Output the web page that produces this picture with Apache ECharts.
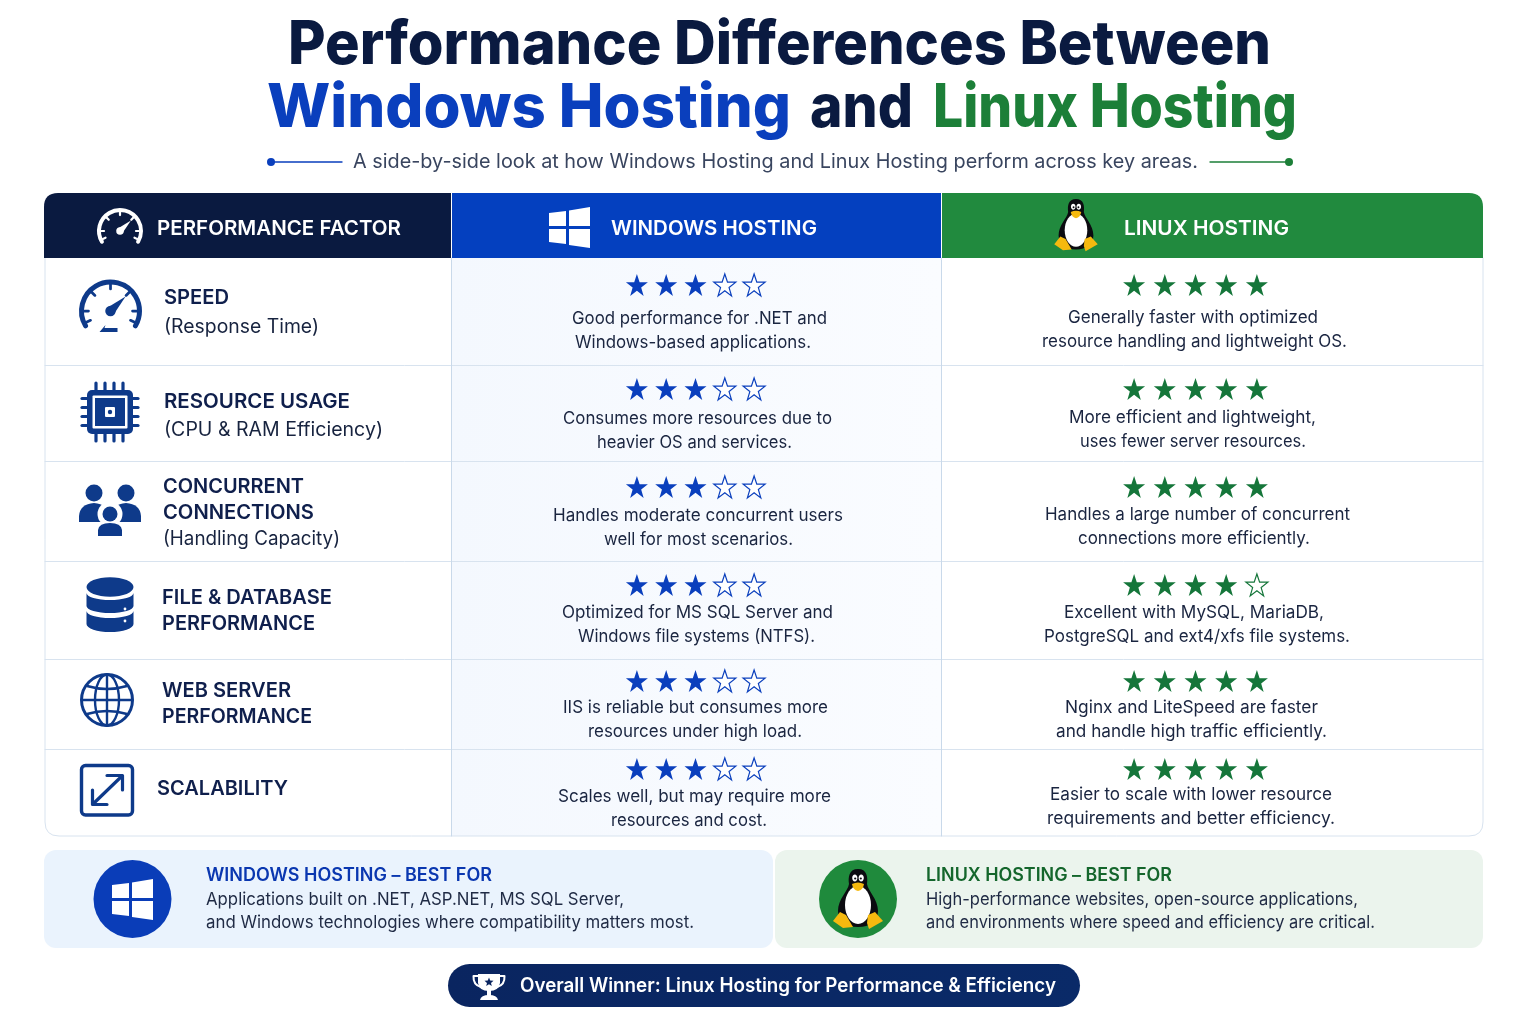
<!DOCTYPE html>
<html>
<head>
<meta charset="utf-8">
<title>Performance Differences Between Windows Hosting and Linux Hosting</title>
<script src="https://cdn.jsdelivr.net/npm/echarts@6/dist/echarts.min.js"></script>
<style>
html,body{margin:0;padding:0;background:#fff;}
#main{width:1536px;height:1024px;}
</style>
</head>
<body>
<div id="main"></div>
<script>
// data
var factorTitles = [
    ['SPEED'],
    ['RESOURCE USAGE'],
    ['CONCURRENT', 'CONNECTIONS'],
    ['FILE & DATABASE', 'PERFORMANCE'],
    ['WEB SERVER', 'PERFORMANCE'],
    ['SCALABILITY']
];
var factorSubs = ['(Response Time)', '(CPU & RAM Efficiency)', '(Handling Capacity)', '', '', ''];
var windowsRatings = [3, 3, 3, 3, 3, 3];
var linuxRatings = [5, 5, 5, 4, 5, 5];
var starSlots = ['1', '2', '3', '4', '5'];
var windowsNotes = [
    ['Good performance for .NET and', 'Windows-based applications.'],
    ['Consumes more resources due to', 'heavier OS and services.'],
    ['Handles moderate concurrent users', 'well for most scenarios.'],
    ['Optimized for MS SQL Server and', 'Windows file systems (NTFS).'],
    ['IIS is reliable but consumes more', 'resources under high load.'],
    ['Scales well, but may require more', 'resources and cost.']
];
var linuxNotes = [
    ['Generally faster with optimized', 'resource handling and lightweight OS.'],
    ['More efficient and lightweight,', 'uses fewer server resources.'],
    ['Handles a large number of concurrent', 'connections more efficiently.'],
    ['Excellent with MySQL, MariaDB,', 'PostgreSQL and ext4/xfs file systems.'],
    ['Nginx and LiteSpeed are faster', 'and handle high traffic efficiently.'],
    ['Easier to scale with lower resource', 'requirements and better efficiency.']
];
var columnHeaders = ['PERFORMANCE FACTOR', 'WINDOWS HOSTING', 'LINUX HOSTING'];
var titleLine1 = 'Performance Differences Between';
var titleParts = ['Windows Hosting', 'and', 'Linux Hosting'];
var subtitle = 'A side-by-side look at how Windows Hosting and Linux Hosting perform across key areas.';
var windowsBest = ['WINDOWS HOSTING – BEST FOR', 'Applications built on .NET, ASP.NET, MS SQL Server,', 'and Windows technologies where compatibility matters most.'];
var linuxBest = ['LINUX HOSTING – BEST FOR', 'High-performance websites, open-source applications,', 'and environments where speed and efficiency are critical.'];
var winnerText = 'Overall Winner: Linux Hosting for Performance & Efficiency';

// layout
var NAVY = '#0a1a40', BLUE = '#0a3fbd', GREEN = '#1c7f38', ICON = '#0e3a8a', FONT = 'Inter, "Noto Sans", sans-serif';
var rowLines = [365.5, 461.5, 561.5, 659.5, 749.5];
var starRowY = [285, 389, 487, 585, 681, 769];
var factorX = [164, 164, 163, 162, 162, 157];
var factorEnd = [[229, 319], [350, 383], [304, 314, 340], [332, 315], [291, 312], [288]];
var factorY = [[296, 325], [400, 428], [485, 511, 537], [596, 622], [689, 715], [787]];
var winNoteSpan = [[[572, 827], [575, 811]], [[563, 832], [597, 792]], [[553, 843], [604, 793]], [[562, 833], [578, 815]], [[563, 828], [588, 802]], [[558, 831], [611, 767]]];
var winNoteY = [[317, 341], [417, 441], [514, 538], [611, 635], [706, 730], [795, 819]];
var linNoteSpan = [[[1068, 1318], [1042, 1347]], [[1069, 1316], [1080, 1306]], [[1045, 1350], [1078, 1310]], [[1064, 1324], [1044, 1350]], [[1065, 1318], [1056, 1327]], [[1050, 1332], [1047, 1335]]];
var linNoteY = [[316, 340], [416, 440], [513, 537], [611, 635], [706, 730], [793, 817]];

var els = [];
var measure = document.createElement('canvas').getContext('2d');
var pathCount = 0;

// text squeezed/stretched to run from x0 to x1
function txt(s, x0, x1, y, font, fill) {
    measure.font = font;
    var k = (x1 - x0) / measure.measureText(s).width;
    return {
        type: 'text', x: x0, y: y + 2, scaleX: k,
        style: { text: s, x: 0, y: 0, font: font, fill: fill, align: 'left', textAlign: 'left', verticalAlign: 'middle', textVerticalAlign: 'middle' }
    };
}
function rect(x, y, w, h, r, fill, stroke) {
    return { type: 'rect', shape: { x: x, y: y, width: w, height: h, r: r || 0 }, style: { fill: fill || 'none', stroke: stroke || 'none', lineWidth: stroke ? 1 : 0 } };
}
// the graphic component has no plain path type, so each svg path gets its own shape
function path(d, fill, stroke, lw) {
    var name = 'svgPath' + (pathCount++);
    echarts.graphic.registerShape(name, echarts.graphic.extendPath(d));
    return { type: name, style: { fill: fill || 'none', stroke: stroke || 'none', lineWidth: lw || 0, lineCap: 'round', lineJoin: 'round' } };
}
function circle(cx, cy, r, fill, stroke, lw) {
    return { type: 'circle', shape: { cx: cx, cy: cy, r: r }, style: { fill: fill || 'none', stroke: stroke || 'none', lineWidth: lw || 0 } };
}
function line(x1, y1, x2, y2, color, lw) {
    return { type: 'line', shape: { x1: x1, y1: y1, x2: x2, y2: y2 }, style: { stroke: color, lineWidth: lw, lineCap: 'round' } };
}

function gauge(cx, cy, r, color, lw, withBase) {
    var a0 = Math.PI * 0.83, a1 = Math.PI * 2.17;
    els.push({ type: 'arc', shape: { cx: cx, cy: cy, r: r, startAngle: a0, endAngle: a1, clockwise: true }, style: { fill: 'none', stroke: color, lineWidth: lw, lineCap: 'round' } });
    [-90, -135, -45, 180, 0, 155, 25].forEach(function (d) {
        var t = d * Math.PI / 180;
        els.push(line(cx + Math.cos(t) * r, cy + Math.sin(t) * r, cx + Math.cos(t) * r * 0.76, cy + Math.sin(t) * r * 0.76, color, lw * 0.55));
    });
    els.push(circle(cx, cy, r * 0.18, color));
    var nx = r * 0.52, ny = -r * 0.5;
    els.push(path('M' + (cx - r * 0.1) + ' ' + (cy - r * 0.12) + 'L' + (cx + nx) + ' ' + (cy + ny) + 'L' + (cx + r * 0.12) + ' ' + (cy + r * 0.1) + 'Z', color));
    if (withBase) {
        els.push(path('M' + (cx - 11) + ' ' + (cy + 21) + 'H' + (cx + 7) + 'V' + (cy + 17) + 'H' + (cx - 6) + 'L' + (cx - 5) + ' ' + (cy + 14) + 'Z', color));
    }
}

function winLogo(x, y, s, fill) {
    // x, y = top left, s = scale (41px wide at 1)
    [
        [[0, 6], [17, 4], [17, 19], [0, 19]],
        [[20, 3.5], [41, 0], [41, 19], [20, 19]],
        [[0, 22], [17, 22], [17, 37], [0, 35]],
        [[20, 22], [41, 22], [41, 41], [20, 38]]
    ].forEach(function (p) {
        els.push({ type: 'polygon', shape: { points: p.map(function (q) { return [x + q[0] * s, y + q[1] * s]; }) }, style: { fill: fill } });
    });
}

function tux(cx, top, s) {
    var gold = '#f5b90f';
    els.push({
        type: 'group', x: cx, y: top, scaleX: s, scaleY: s,
        children: [
            path('M0 0C-9 0-10 8-9 15C-10 22-20 30-20 42C-20 52-12 58 0 58C12 58 20 52 20 42C20 30 10 22 9 15C10 8 9 0 0 0Z', '#0b0b10'),
            { type: 'ellipse', shape: { cx: 0, cy: 36, rx: 13, ry: 19 }, style: { fill: '#fff' } },
            { type: 'ellipse', shape: { cx: -3.2, cy: 9, rx: 2.6, ry: 3.4 }, style: { fill: '#fff' } },
            { type: 'ellipse', shape: { cx: 3.2, cy: 9, rx: 2.6, ry: 3.4 }, style: { fill: '#fff' } },
            circle(-2.8, 9.5, 1.1, '#0b0b10'),
            circle(2.8, 9.5, 1.1, '#0b0b10'),
            path('M-6 15Q0 12 6 15Q5 21 0 22Q-5 21-6 15Z', gold),
            path('M-25 52L-18 43L-12 46L-5 58L-15 59Z', gold),
            path('M10 46L17 43L25 52L11 60L9 54Z', gold)
        ]
    });
}

// page title
els.push(txt(titleLine1, 288, 1271, 44, '800 60px ' + FONT, NAVY));
els.push(txt(titleParts[0], 267, 791, 107, '800 60px ' + FONT, BLUE));
els.push(txt(titleParts[1], 810, 913, 107, '800 60px ' + FONT, NAVY));
els.push(txt(titleParts[2], 933, 1297, 107, '800 60px ' + FONT, GREEN));
els.push(line(271, 162, 342, 162, BLUE, 1.4), circle(271, 162, 4, BLUE));
els.push(line(1210, 162, 1289, 162, GREEN, 1.4), circle(1289, 162, 4, GREEN));
els.push(txt(subtitle, 353, 1198, 160, '400 20px ' + FONT, '#39455f'));

// table body
els.push(rect(452, 258, 489, 578, 0, {
    type: 'linear', x: 0, y: 0, x2: 1, y2: 0,
    colorStops: [{ offset: 0, color: '#f4f8fe' }, { offset: 1, color: '#fafcff' }]
}));
els.push(path('M45 258V822Q45 836 59 836H1469Q1483 836 1483 822V258', 'none', '#d8e3ef', 1));
rowLines.forEach(function (y) { els.push(line(45, y, 1483, y, '#d8e3ef', 1)); });
els.push(line(451.5, 258, 451.5, 836, '#c9d9ea', 1), line(941.5, 258, 941.5, 836, '#c9d9ea', 1));

// table header
els.push(path('M44 258V207Q44 193 58 193H451V258Z', NAVY));
els.push(rect(452, 193, 489, 65, 0, '#0440bf'));
els.push(path('M942 193H1469Q1483 193 1483 207V258H942Z', '#218a3e'));
gauge(120, 231, 21, '#fff', 4, false);
winLogo(549, 207, 1, '#fff');
tux(1076, 199, 0.87);
els.push(txt(columnHeaders[0], 157, 401, 227, '600 20px ' + FONT, '#fff'));
els.push(txt(columnHeaders[1], 611, 817, 227, '600 20px ' + FONT, '#fff'));
els.push(txt(columnHeaders[2], 1124, 1289, 227, '600 20px ' + FONT, '#fff'));

// factor icons
gauge(110.5, 311, 29, ICON, 5, true);

// cpu
for (var p = 0; p < 4; p++) {
    els.push(line(96 + p * 9, 383, 96 + p * 9, 392, ICON, 3.2), line(96 + p * 9, 432, 96 + p * 9, 441, ICON, 3.2));
    els.push(line(82, 398.5 + p * 9, 88, 398.5 + p * 9, ICON, 3.2), line(132, 398.5 + p * 9, 138, 398.5 + p * 9, ICON, 3.2));
}
els.push(rect(87, 390, 46, 44, 5, ICON));
els.push(rect(92.5, 395.5, 35, 33, 1, '#fff'));
els.push(rect(95, 398, 30, 28, 0, ICON));
els.push(rect(105, 407, 10, 10, 1, '#fff'), circle(110, 412, 2.2, ICON));

// people
els.push(circle(94, 493, 8.5, ICON), circle(126, 493, 8.5, ICON));
els.push(path('M79 522V516Q80 504 94 503Q108 504 109 516V522Z', ICON));
els.push(path('M111 522V516Q112 504 126 503Q140 504 141 516V522Z', ICON));
els.push(circle(110, 514, 12.5, '#fff'));
els.push(path('M95 522H125V540H95Z', '#fff'));
els.push(circle(110, 514, 7.5, ICON));
els.push(path('M98 536V530Q99 523 110 523Q121 523 122 530V536Z', ICON));

// database
els.push({ type: 'ellipse', shape: { cx: 110, cy: 587, rx: 23.5, ry: 9.8 }, style: { fill: ICON } });
els.push(path('M86.5 593A23.5 7 0 0 0 133.5 593V606A23.5 7 0 0 1 86.5 606Z', ICON));
els.push(path('M86.5 611A23.5 7 0 0 0 133.5 611V624A23.5 8 0 0 1 86.5 624Z', ICON));
els.push(circle(125, 609, 1.4, '#fff'), circle(125, 621, 1.4, '#fff'));

// globe
els.push(circle(107, 700, 25.5, 'none', ICON, 3));
els.push({ type: 'ellipse', shape: { cx: 107, cy: 700, rx: 12, ry: 25.5 }, style: { fill: 'none', stroke: ICON, lineWidth: 2.4 } });
els.push(line(107, 675, 107, 725, ICON, 2.4), line(82, 700, 132, 700, ICON, 2.4));
els.push(path('M87 686Q107 692 127 686', 'none', ICON, 2.4), path('M87 714Q107 708 127 714', 'none', ICON, 2.4));

// scale
els.push({ type: 'rect', shape: { x: 81.5, y: 765.5, width: 51, height: 49.5, r: 4 }, style: { fill: 'none', stroke: ICON, lineWidth: 3.4 } });
els.push(line(93, 804, 122, 776, ICON, 3.2));
els.push(path('M107 775.5H122.5V790', 'none', ICON, 3.2), path('M92.5 790V804.5H107', 'none', ICON, 3.2));

// factor labels
factorTitles.forEach(function (lines, i) {
    lines.forEach(function (s, j) {
        els.push(txt(s, factorX[i], factorEnd[i][j], factorY[i][j], '600 20px ' + FONT, '#0f1f4c'));
    });
    if (factorSubs[i]) {
        els.push(txt(factorSubs[i], factorX[i], factorEnd[i][lines.length], factorY[i][lines.length], '400 19.5px ' + FONT, '#17233f'));
    }
});

// notes
windowsNotes.forEach(function (lines, i) {
    lines.forEach(function (s, j) {
        els.push(txt(s, winNoteSpan[i][j][0], winNoteSpan[i][j][1], winNoteY[i][j], '400 17.5px ' + FONT, '#1a2540'));
    });
});
linuxNotes.forEach(function (lines, i) {
    lines.forEach(function (s, j) {
        els.push(txt(s, linNoteSpan[i][j][0], linNoteSpan[i][j][1], linNoteY[i][j], '400 17.5px ' + FONT, '#1a2540'));
    });
});

// best for boxes
els.push(rect(44, 850, 729, 98, 12, '#eaf3fd'));
els.push(rect(775, 850, 708, 98, 12, '#ebf4ed'));
els.push(circle(132.5, 899, 39, '#0a3db8'));
winLogo(112, 879, 1, '#fff');
els.push(circle(858, 899, 39, '#1f8a3c'));
tux(858, 869, 1);
els.push(txt(windowsBest[0], 206, 492, 874, '600 18px ' + FONT, '#0a37b0'));
els.push(txt(windowsBest[1], 206, 624, 898, '400 17.5px ' + FONT, '#1f2a44'));
els.push(txt(windowsBest[2], 206, 694, 921, '400 17.5px ' + FONT, '#1f2a44'));
els.push(txt(linuxBest[0], 926, 1172, 874, '600 18px ' + FONT, '#14662c'));
els.push(txt(linuxBest[1], 926, 1358, 898, '400 17.5px ' + FONT, '#1f2a44'));
els.push(txt(linuxBest[2], 926, 1375, 921, '400 17.5px ' + FONT, '#1f2a44'));

// winner pill
els.push(rect(448, 964, 632, 43, 21.5, {
    type: 'linear', x: 0, y: 0, x2: 1, y2: 0,
    colorStops: [{ offset: 0, color: '#0a2560' }, { offset: 1, color: '#0a2a68' }]
}));
els.push(path('M478 974H500V983Q499 991 489 991Q479 991 478 983Z', '#fff'));
els.push(path('M478 976H473.5Q473 985 481 987', 'none', '#fff', 2), path('M500 976H504.5Q505 985 497 987', 'none', '#fff', 2));
els.push(rect(487, 990, 4, 6, 0, '#fff'), path('M480 1000Q481 995 489 995Q497 995 498 1000Z', '#fff'));
els.push(path('M489 977.5L490.2 980.6L493.5 980.8L491 982.9L491.8 986L489 984.3L486.2 986L487 982.9L484.5 980.8L487.8 980.6Z', '#0a2560'));
els.push(txt(winnerText, 520, 1056, 984, '600 19.5px ' + FONT, '#fff'));

// star ratings: one small grid per table cell
var STAR = 'path://M50 2L62 37L99 37L69 60L80 96L50 74L20 96L31 60L1 37L38 37Z';
var grids = [], xAxes = [], yAxes = [], series = [];
function addStars(ratings, left, step, color) {
    ratings.forEach(function (rating, r) {
        var idx = grids.length;
        grids.push({ left: left, width: step * 5, top: starRowY[r] - 15, height: 30 });
        xAxes.push({ type: 'category', gridIndex: idx, data: starSlots, show: false });
        yAxes.push({ type: 'value', gridIndex: idx, min: 0, max: 1, show: false });
        series.push({
            type: 'scatter', xAxisIndex: idx, yAxisIndex: idx, symbol: STAR, symbolSize: 22, silent: true, z: 5,
            data: starSlots.map(function (slot, i) {
                var filled = i < rating;
                return {
                    value: [slot, 0.5],
                    itemStyle: { opacity: 1, color: filled ? color : '#fff', borderColor: color, borderWidth: filled ? 0 : 1.2 }
                };
            })
        });
    });
}
addStars(windowsRatings, 695.5 - 2.5 * 29.3, 29.3, '#0a3fbd');
addStars(linuxRatings, 1195.5 - 2.5 * 30.7, 30.7, '#15763a');

var myChart = echarts.init(document.getElementById('main'));
myChart.setOption({
    animation: false,
    backgroundColor: '#fff',
    grid: grids,
    xAxis: xAxes,
    yAxis: yAxes,
    series: series,
    graphic: { elements: els }
});
</script>
</body>
</html>
